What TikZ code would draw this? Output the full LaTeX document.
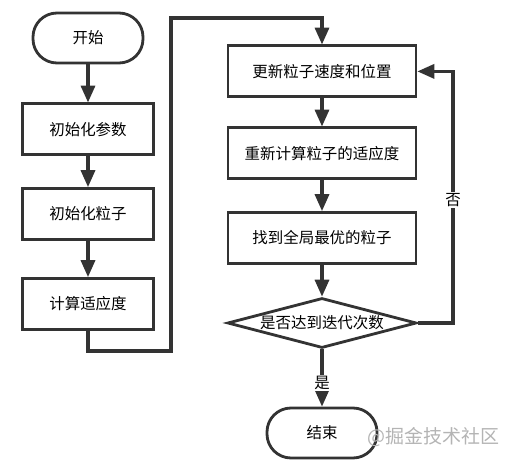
\documentclass[tikz,border=0pt]{standalone}
\usepackage{fontspec}
\setmainfont{Noto Sans CJK SC}
\usetikzlibrary{arrows.meta, shapes.geometric}

\definecolor{linegray}{HTML}{333333}
\definecolor{markgray}{HTML}{B4B4B4}

\tikzset{
    stepbox/.style={draw=linegray, line width=2pt, rectangle, minimum height=1.275cm, inner sep=0pt},
    terminal/.style={draw=linegray, line width=2pt, rectangle, rounded corners=0.6cm, minimum width=2.75cm, minimum height=1.25cm},
    decision/.style={draw=linegray, line width=2pt, diamond, shape aspect=3.8, inner sep=0pt, minimum width=4.725cm, minimum height=1.25cm},
    flow/.style={draw=linegray, line width=2.2pt, -{Triangle[width=10pt, length=12pt]}}
}

\begin{document}
\begin{tikzpicture}[font=\fontsize{11}{13}\selectfont]
        \useasboundingbox (0, 0) rectangle (12.775, 11.575);
        % left column
        \node [terminal] (start) at (2.2, 10.625) {开始};
        \node [stepbox, minimum width=3.275cm] (param) at (2.2, 8.34) {初始化参数};
        \node [stepbox, minimum width=3.275cm] (init) at (2.2, 6.225) {初始化粒子};
        \node [stepbox, minimum width=3.275cm] (fit) at (2.2, 3.975) {计算适应度};
        % right column
        \node [stepbox, minimum width=4.7cm] (update) at (8.05, 9.79) {更新粒子速度和位置};
        \node [stepbox, minimum width=4.7cm] (refit) at (8.05, 7.74) {重新计算粒子的适应度};
        \node [stepbox, minimum width=4.7cm] (best) at (8.05, 5.625) {找到全局最优的粒子};
        \node [decision] (check) at (8.05, 3.5) {是否达到迭代次数};
        \node [terminal] (finish) at (8.05, 0.75) {结束};
        \coordinate (low) at (4.275, 2.8);
        \coordinate (high) at (4.275, 11.125);
        \coordinate (loop) at (11.325, 3.5);
        \draw [flow] (start) -- (param);
        \draw [flow] (param) -- (init);
        \draw [flow] (init) -- (fit);
        \draw [flow] (fit.south) |- (low) -- (high) -| (update.north);
        \draw [flow] (update) -- (refit);
        \draw [flow] (refit) -- (best);
        \draw [flow] (best) -- (check);
        \draw [flow] (check) -- (finish);
        \draw [flow] (check.east) -- (loop) |- (update.east);
        \node [fill=white, inner sep=1pt] (no) at (11.325, 6.575) {否};
        \node [fill=white, inner sep=1pt] (yes) at (8.05, 2.0) {是};
        \node [text=markgray, font=\fontsize{13.5}{15}\selectfont] (mark) at (10.84, 0.65) {@掘金技术社区};
    \end{tikzpicture}
\end{document}
